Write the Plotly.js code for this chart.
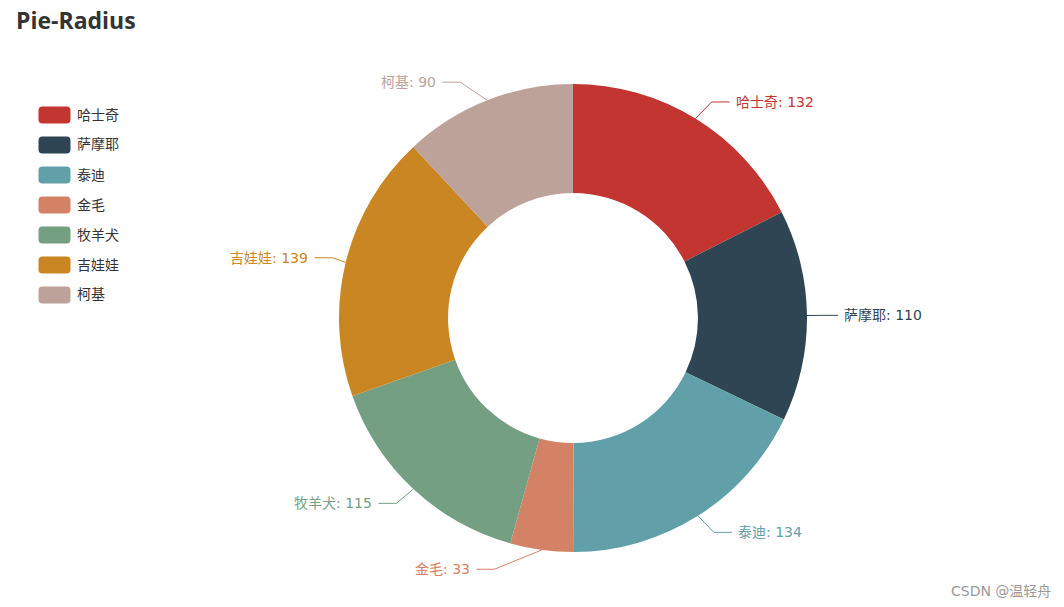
<!DOCTYPE html>
<html><head><meta charset="utf-8">
<script src="https://cdn.plot.ly/plotly-3.0.1.min.js"></script>
<style>html,body{margin:0;padding:0;background:#fff}#chart{width:1064px;height:607px}</style>
</head><body><div id="chart"></div>
<script>
const categories = ['哈士奇','萨摩耶','泰迪','金毛','牧羊犬','吉娃娃','柯基'];
const values = [132,110,134,33,115,139,90];
const colors = ['#c23531','#2f4554','#61a0a8','#d48265','#749f83','#ca8622','#bda29a'];
const titleText = 'Pie-Radius';
const watermark = 'CSDN @温轻舟';

const W=1064, H=607, CX=573, CY=318, R=234, HOLE=0.534;
const FONT='"Open Sans", "Noto Sans CJK SC", "Microsoft YaHei", sans-serif';
const LFONT='"DejaVu Sans", "Noto Sans CJK SC", "Microsoft YaHei", sans-serif';
const px = x => x / W, py = y => 1 - y / H;

const total = values.reduce((a, b) => a + b, 0);
const shapes = [], annotations = [];

// outside labels with two-segment leader lines (echarts-like)
const LEN = 19.5, LEN2 = 18, GAP = 5, A = 247;
let cum = 0;
values.forEach((v, i) => {
  const mid = (cum + v / 2) / total * 2 * Math.PI; cum += v;
  const sx = Math.sin(mid), sy = -Math.cos(mid);
  const dir = sx < 0 ? -1 : 1;
  const B = dir < 0 ? 265 : 261;
  const x1 = CX + R * sx, y1 = CY + R * sy;
  const ey = CY + (R + LEN) * sy;
  const k = Math.max(0, 1 - Math.pow((ey - CY) / B, 2));
  const ex = CX + dir * A * Math.sqrt(k);
  const x3 = ex + dir * LEN2;
  shapes.push({
    type: 'path', xref: 'paper', yref: 'paper',
    path: `M${px(x1)},${py(y1)} L${px(ex)},${py(ey)} L${px(x3)},${py(ey)}`,
    line: {color: colors[i], width: 1}
  });
  annotations.push({
    xref: 'paper', yref: 'paper', x: px(x3 + dir * GAP), y: py(ey),
    xanchor: dir < 0 ? 'right' : 'left', yanchor: 'middle',
    text: `${categories[i]}: ${values[i]}`, showarrow: false, borderpad: 0,
    font: {family: LFONT, size: 14, color: colors[i]}
  });
});

// legend drawn as rounded swatches + text
const LX0 = 38.5, LX1 = 70.5, LY0 = 115, LSTEP = 30, LH = 17, RAD = 4;
categories.forEach((c, i) => {
  const yc = LY0 + i * LSTEP, t = yc - LH / 2, b = yc + LH / 2;
  const P = (x, y) => `${px(x)},${py(y)}`;
  const path = `M${P(LX0 + RAD, t)} L${P(LX1 - RAD, t)} Q${P(LX1, t)} ${P(LX1, t + RAD)} L${P(LX1, b - RAD)} Q${P(LX1, b)} ${P(LX1 - RAD, b)} L${P(LX0 + RAD, b)} Q${P(LX0, b)} ${P(LX0, b - RAD)} L${P(LX0, t + RAD)} Q${P(LX0, t)} ${P(LX0 + RAD, t)} Z`;
  shapes.push({type: 'path', xref: 'paper', yref: 'paper', path, fillcolor: colors[i], line: {width: 0}});
  annotations.push({
    xref: 'paper', yref: 'paper', x: px(76), y: py(yc - 1), xanchor: 'left', yanchor: 'middle',
    text: c, showarrow: false, borderpad: 0, font: {family: FONT, size: 14, color: '#333'}
  });
});

annotations.push({
  xref: 'paper', yref: 'paper', x: px(1052), y: py(591), xanchor: 'right', yanchor: 'middle',
  text: watermark, showarrow: false, borderpad: 0, font: {family: LFONT, size: 14, color: '#999'}
});

const trace = {
  type: 'pie', labels: categories, values: values, sort: false, direction: 'clockwise', rotation: 0,
  hole: HOLE, marker: {colors: colors, line: {width: 0}}, textinfo: 'none', hoverinfo: 'skip',
  domain: {x: [(CX - R) / W, (CX + R) / W], y: [(H - CY - R) / H, (H - CY + R) / H]}
};

const layout = {
  width: W, height: H, margin: {l: 0, r: 0, t: 0, b: 0}, showlegend: false,
  paper_bgcolor: '#fff', plot_bgcolor: '#fff',
  title: {text: titleText, x: px(16), xanchor: 'left', y: py(21), yanchor: 'middle', xref: 'paper', yref: 'paper',
    font: {family: FONT, size: 23, color: '#333', weight: 'bold'}},
  shapes, annotations
};
Plotly.newPlot('chart', [trace], layout, {displayModeBar: false, staticPlot: true});
</script></body></html>
